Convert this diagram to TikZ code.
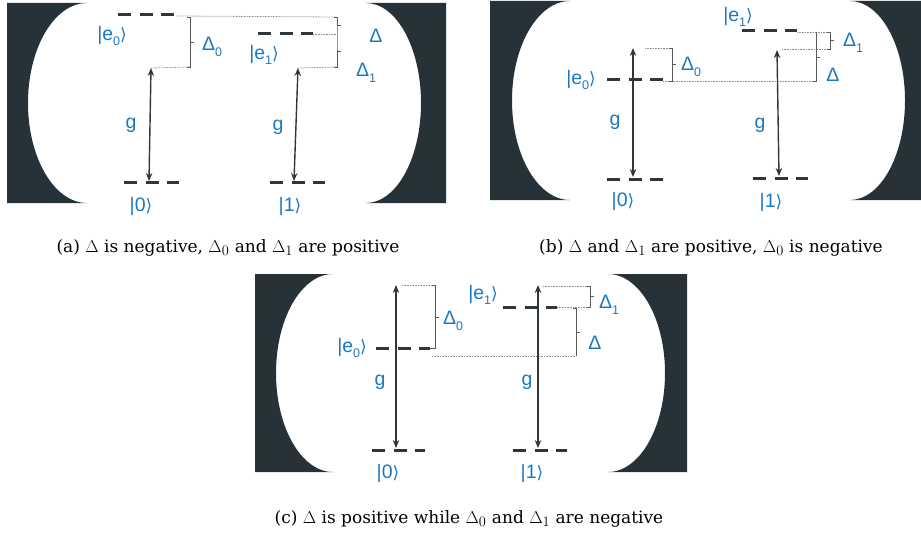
\documentclass[tikz,border=0pt]{standalone}
\usepackage{fontspec}
\setmainfont{DejaVu Serif}
\newfontfamily\lblfont{Liberation Sans}
\newfontfamily\brfont{DejaVu Sans}
\DeclareMathSizes{17}{17.5}{13.5}{10}
\usetikzlibrary{arrows.meta}
\definecolor{mirrorc}{HTML}{263238}
\definecolor{lblblue}{HTML}{1A78C2}
\definecolor{levelc}{HTML}{30373C}
\definecolor{bracec}{HTML}{5A5A5A}
\definecolor{dotc}{HTML}{8C8C8C}
\newcommand{\ketlbl}[1]{|#1{\brfont\fontsize{17}{17}\selectfont ⟩}}
\newcommand{\lsub}[1]{\raisebox{-0.28em}{\fontsize{12.5}{12.5}\selectfont #1}}
\tikzset{
  lbl/.style={text=lblblue, font=\lblfont\fontsize{19.5}{19.5}\selectfont, inner sep=0pt},
  captxt/.style={text=black, font=\fontsize{17}{20}\selectfont, inner sep=0pt},
  level/.style={draw=levelc, line width=3pt, dash pattern=on 13pt off 8.5pt},
  coupl/.style={draw=levelc, line width=1.4pt, {Stealth[length=8pt,width=6.5pt]}-{Stealth[length=8pt,width=6.5pt]}},
  brk/.style={draw=bracec, line width=0.8pt},
  dotl/.style={draw=dotc, line width=0.8pt, dash pattern=on 0.8pt off 0.8pt},
  mirror/.style={fill=mirrorc}
}
\begin{document}
\begin{tikzpicture}[x=1pt,y=-1pt]
\useasboundingbox (0,0) rectangle (921,535);
% ---------------- panel (a) ----------------
\fill[mirror] (7,3) -- (87,3) arc[start angle=90,end angle=270,x radius=59pt,y radius=100pt] -- (7,203) -- cycle;
\fill[mirror] (446,3) -- (366,3) arc[start angle=90,end angle=-90,x radius=55pt,y radius=100pt] -- (446,203) -- cycle;
\coordinate (a-e0l) at (118,15); \coordinate (a-e0r) at (174,15);
\coordinate (a-e1l) at (258,34); \coordinate (a-e1r) at (313,34);
\coordinate (a-g0l) at (124,182); \coordinate (a-g0r) at (179,182);
\coordinate (a-g1l) at (270,182); \coordinate (a-g1r) at (325,182);
\coordinate (a-at0) at (151,68); \coordinate (a-ab0) at (149,181);
\coordinate (a-at1) at (298,68); \coordinate (a-ab1) at (294,181);
\coordinate (a-b0) at (190,17); \coordinate (a-b0b) at (190,67);
\coordinate (a-bt) at (337,17); \coordinate (a-bm) at (337,34); \coordinate (a-bb) at (337,67);
\draw[level] (a-e0l) -- (a-e0r);
\draw[level] (a-e1l) -- (a-e1r);
\draw[level] (a-g0l) -- (a-g0r);
\draw[level] (a-g1l) -- (a-g1r);
\draw[dotl] (177,16) -- (a-bt);
\draw[dotl] (a-e1r) -- (a-bm);
\draw[dotl] (a-at0) -- (a-b0b);
\draw[dotl] (a-at1) -- (a-bb);
\draw[brk] (187,17) -- (a-b0) -- (a-b0b) -- (187,67);
\draw[brk] (190,42) -- (194,42);
\draw[brk] (334,17) -- (a-bt) -- (a-bm) -- (a-bb) -- (334,67);
\draw[brk] (337,25) -- (341,25);
\draw[brk] (337,51) -- (341,51);
\draw[coupl] (a-at0) -- (a-ab0);
\draw[coupl] (a-at1) -- (a-ab1);
\node[lbl] (a-le0) at (112,36) {\ketlbl{e\lsub{0}}};
\node[lbl] (a-ld0) at (212,47) {Δ\lsub{0}};
\node[lbl] (a-lg0) at (131,125) {g};
\node[lbl] (a-lk0) at (141,206) {\ketlbl{0}};
\node[lbl] (a-le1) at (264,55) {\ketlbl{e\lsub{1}}};
\node[lbl] (a-ld) at (376,36) {Δ};
\node[lbl] (a-ld1) at (366,73) {Δ\lsub{1}};
\node[lbl] (a-lg1) at (278,127) {g};
\node[lbl] (a-lk1) at (290,207) {\ketlbl{1}};
\node[captxt] (capa) at (228,248) {(a) $\Delta$ is negative, $\Delta_0$ and $\Delta_1$ are positive};
% ---------------- panel (b) ----------------
\fill[mirror] (490,1) -- (570,1) arc[start angle=90,end angle=270,x radius=58pt,y radius=99.5pt] -- (490,200) -- cycle;
\fill[mirror] (925,1) -- (850,1) arc[start angle=90,end angle=-90,x radius=55pt,y radius=99.5pt] -- (925,200) -- cycle;
\coordinate (b-e1l) at (742,31); \coordinate (b-e1r) at (797,31);
\coordinate (b-e0l) at (607,80); \coordinate (b-e0r) at (663,80);
\coordinate (b-g0l) at (607,179); \coordinate (b-g0r) at (663,179);
\coordinate (b-g1l) at (753,178); \coordinate (b-g1r) at (808,178);
\coordinate (b-at0) at (633,48); \coordinate (b-ab0) at (633,177);
\coordinate (b-at1) at (777,50); \coordinate (b-ab1) at (779,176);
\coordinate (b-d1t) at (830,32); \coordinate (b-d1b) at (830,49);
\coordinate (b-dt) at (816,32); \coordinate (b-db) at (816,81);
\coordinate (b-d0t) at (672,48); \coordinate (b-d0b) at (672,81);
\draw[level] (b-e1l) -- (b-e1r);
\draw[level] (b-e0l) -- (b-e0r);
\draw[level] (b-g0l) -- (b-g0r);
\draw[level] (b-g1l) -- (b-g1r);
\draw[dotl] (797,32) -- (b-d1t);
\draw[dotl] (782,49) -- (b-d1b);
\draw[dotl] (663,81) -- (b-db);
\draw[dotl] (645,48) -- (b-d0t);
\draw[brk] (827,32) -- (b-d1t) -- (b-d1b) -- (827,49);
\draw[brk] (830,40) -- (834,40);
\draw[brk] (b-dt) -- (b-db) -- (813,81);
\draw[brk] (816,57) -- (820,57);
\draw[brk] (669,48) -- (b-d0t) -- (b-d0b) -- (669,81);
\draw[brk] (672,64) -- (676,64);
\draw[coupl] (b-at0) -- (b-ab0);
\draw[coupl] (b-at1) -- (b-ab1);
\node[lbl] (b-le1) at (738,17) {\ketlbl{e\lsub{1}}};
\node[lbl] (b-ld1) at (853,43) {Δ\lsub{1}};
\node[lbl] (b-ld) at (833,75) {Δ};
\node[lbl] (b-le0) at (581,80) {\ketlbl{e\lsub{0}}};
\node[lbl] (b-ld0) at (691,67) {Δ\lsub{0}};
\node[lbl] (b-lg0) at (615,122) {g};
\node[lbl] (b-lg1) at (760,125) {g};
\node[lbl] (b-lk0) at (623,201) {\ketlbl{0}};
\node[lbl] (b-lk1) at (771,203) {\ketlbl{1}};
\node[captxt] (capb) at (711,248) {(b) $\Delta$ and $\Delta_1$ are positive, $\Delta_0$ is negative};
% ---------------- panel (c) ----------------
\fill[mirror] (255,274) -- (333,274) arc[start angle=90,end angle=270,x radius=57pt,y radius=99pt] -- (255,472) -- cycle;
\fill[mirror] (687,274) -- (608,274) arc[start angle=90,end angle=-90,x radius=57pt,y radius=99pt] -- (687,472) -- cycle;
\coordinate (c-e0l) at (376,348); \coordinate (c-e0r) at (430,348);
\coordinate (c-e1l) at (503,307); \coordinate (c-e1r) at (557,307);
\coordinate (c-g0l) at (372,450); \coordinate (c-g0r) at (425,450);
\coordinate (c-g1l) at (513,450); \coordinate (c-g1r) at (567,450);
\coordinate (c-at0) at (396,285); \coordinate (c-ab0) at (396,448);
\coordinate (c-at1) at (538,285); \coordinate (c-ab1) at (538,448);
\coordinate (c-d0t) at (435,285); \coordinate (c-d0b) at (435,348);
\coordinate (c-dt) at (576,308); \coordinate (c-db) at (576,356);
\coordinate (c-d1t) at (590,286); \coordinate (c-d1b) at (590,307);
\draw[level] (c-e0l) -- (c-e0r);
\draw[level] (c-e1l) -- (c-e1r);
\draw[level] (c-g0l) -- (c-g0r);
\draw[level] (c-g1l) -- (c-g1r);
\draw[dotl] (402,285) -- (c-d0t);
\draw[dotl] (432,356) -- (c-db);
\draw[dotl] (543,286) -- (c-d1t);
\draw[dotl] (c-e1r) -- (c-d1b);
\draw[brk] (432,285) -- (c-d0t) -- (c-d0b) -- (430,348);
\draw[brk] (435,317) -- (439,317);
\draw[brk] (573,308) -- (c-dt) -- (c-db);
\draw[brk] (576,332) -- (580,332);
\draw[brk] (587,286) -- (c-d1t) -- (c-d1b) -- (587,307);
\draw[brk] (590,296) -- (594,296);
\draw[coupl] (c-at0) -- (c-ab0);
\draw[coupl] (c-at1) -- (c-ab1);
\node[lbl] (c-le1) at (483,295) {\ketlbl{e\lsub{1}}};
\node[lbl] (c-ld1) at (609,305) {Δ\lsub{1}};
\node[lbl] (c-ld0) at (453,321) {Δ\lsub{0}};
\node[lbl] (c-ld) at (595,343) {Δ};
\node[lbl] (c-le0) at (352,348) {\ketlbl{e\lsub{0}}};
\node[lbl] (c-lg0) at (380,382) {g};
\node[lbl] (c-lg1) at (527,382) {g};
\node[lbl] (c-lk0) at (388,473) {\ketlbl{0}};
\node[lbl] (c-lk1) at (532,473) {\ketlbl{1}};
\node[captxt] (capc) at (469,519) {(c) $\Delta$ is positive while $\Delta_0$ and $\Delta_1$ are negative};
\end{tikzpicture}
\end{document}
